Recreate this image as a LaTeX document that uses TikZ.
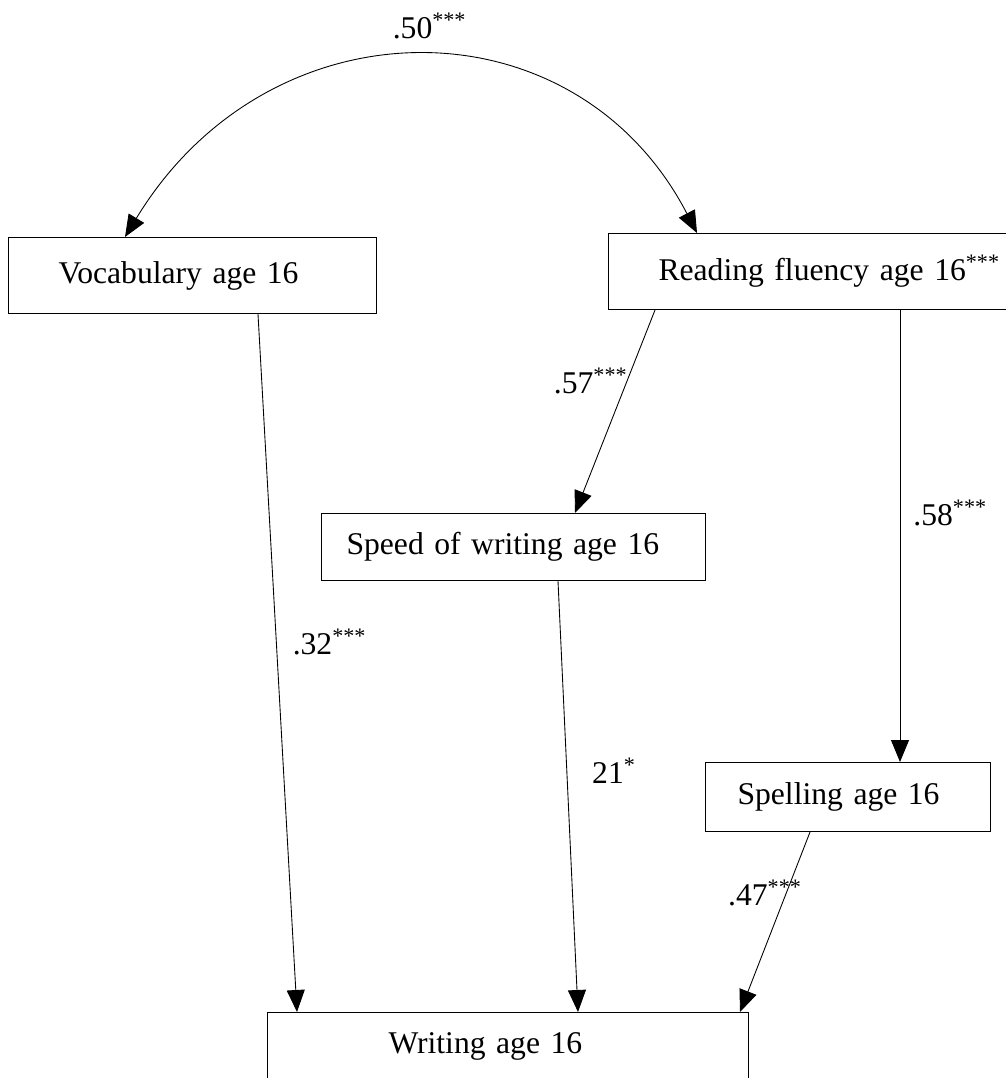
\documentclass[tikz,border=0pt]{standalone}
\usepackage{fontspec}
\setmainfont{Liberation Serif}
\usepackage{tikz}
\usetikzlibrary{arrows.meta, positioning, calc}

\begin{document}
\begin{tikzpicture}[
    x=0.02cm, y=-0.02cm,
    every node/.style={font=\fontsize{18}{22}\selectfont},
    block/.style={rectangle, draw=black, line width=0.6pt, anchor=north west, align=left, inner ysep=0pt},
    coef/.style={inner sep=0pt},
    arrow/.style={-{Triangle[length=0.44cm, width=0.36cm]}, line width=0.5pt, draw=black},
    corr/.style={{Triangle[length=0.44cm, width=0.36cm]}-{Triangle[length=0.44cm, width=0.36cm]}, line width=0.5pt, draw=black}
]
\path[use as bounding box, fill=white] (0,0) rectangle (1005,1078);
\node[block, text width=5.36cm, inner xsep=1cm, minimum height=1.52cm] (vocab) at (8,237) {Vocabulary age 16};
\node[block, text width=7cm, inner xsep=1cm, minimum height=1.52cm] (reading) at (608,233) {Reading fluency age 16\textsuperscript{***}};
\node[block, text width=6.68cm, inner xsep=0.5cm, minimum height=1.34cm] (speed) at (321,513) {Speed of writing age 16};
\node[block, text width=4.42cm, inner xsep=0.64cm, minimum height=1.38cm] (spelling) at (705,762) {Spelling age 16};
\node[block, text width=4.78cm, inner xsep=2.42cm, minimum height=1.36cm] (writing) at (267,1012) {Writing age 16};
\draw[corr] ($(vocab.north west)+(117,0)$) .. controls +(145,-239) and +(-122,-235) .. ($(reading.north west)+(89,0)$) node[coef, pos=0.5, anchor=south, xshift=0.2cm, yshift=0.36cm] {.50\textsuperscript{***}};
\draw[arrow] ($(vocab.south west)+(250,0)$) -- node[coef, pos=0.47, anchor=west, xshift=0.32cm] {.32\textsuperscript{***}} ($(writing.north west)+(30,0)$);
\draw[arrow] ($(reading.south west)+(47,0)$) -- node[coef, pos=0.35, anchor=east, xshift=0.02cm] {.57\textsuperscript{***}} ($(speed.north west)+(254,0)$);
\draw[arrow] ($(reading.south west)+(292,0)$) -- node[coef, pos=0.45, anchor=west, xshift=0.26cm] {.58\textsuperscript{***}} ($(spelling.north west)+(195,0)$);
\draw[arrow] ($(speed.south west)+(237,0)$) -- node[coef, pos=0.44, anchor=west, xshift=0.5cm] {21\textsuperscript{*}} ($(writing.north west)+(311,0)$);
\draw[arrow] ($(spelling.south west)+(105,0)$) -- node[coef, pos=0.34, anchor=east, xshift=0.32cm] {.47\textsuperscript{***}} ($(writing.north west)+(473,0)$);
\end{tikzpicture}
\end{document}
